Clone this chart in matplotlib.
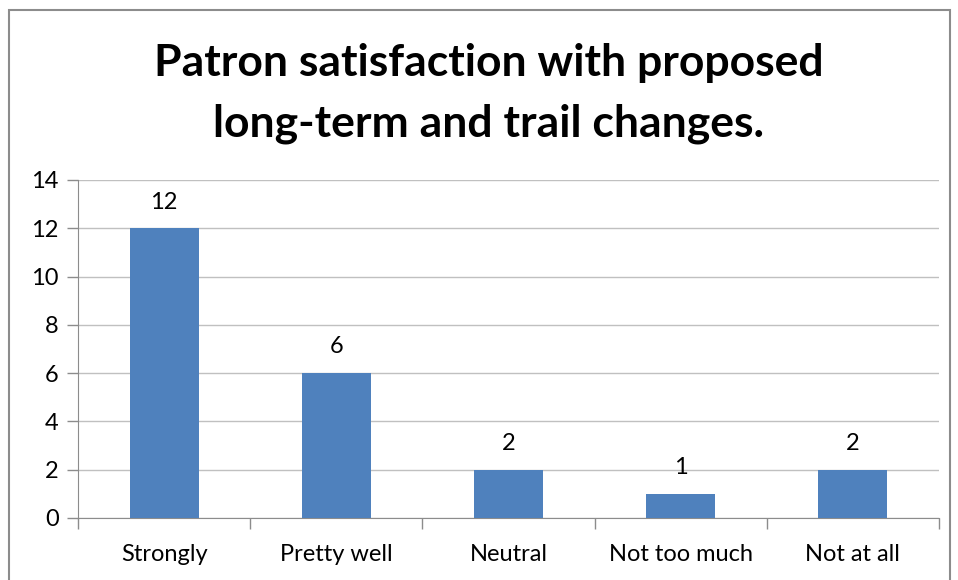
import matplotlib.pyplot as plt
from matplotlib.patches import Rectangle
import numpy as np

categories = ["Strongly", "Pretty well", "Neutral", "Not too much", "Not at all"]
counts = [12, 6, 2, 1, 2]
yticks = [0, 2, 4, 6, 8, 10, 12, 14]

plt.rcParams['font.family'] = ['Lato', 'DejaVu Sans']

fig = plt.figure(figsize=(9.58, 5.8), dpi=100)
ax = fig.add_axes([0.0814, 0.107, 0.8987, 0.5827])

# outer chart border (bottom edge runs off the image)
fig.patches.append(Rectangle((9 / 958, -0.05), 941 / 958, 1.05 - 10 / 580,
                             transform=fig.transFigure, fill=False,
                             edgecolor='#8c8c8c', linewidth=1.5))

x = np.arange(len(categories))
bars = ax.bar(x, counts, width=0.4, color='#4F81BD', zorder=3)
for b, v in zip(bars, counts):
    ax.text(b.get_x() + b.get_width() / 2, v + 0.65, str(v),
            ha='center', va='bottom', fontsize=17)

ax.set_xlim(-0.5, len(categories) - 0.5)
ax.set_ylim(0, 14)
ax.set_yticks(yticks)
ax.set_yticklabels([str(t) for t in yticks], fontsize=17)
ax.yaxis.grid(True, color='#c0c0c0', linewidth=1, zorder=0)

ax.set_xticks(x)
ax.set_xticklabels(categories, fontsize=17)
ax.tick_params(axis='x', length=0, pad=19)
ax.set_xticks(np.arange(-0.5, len(categories)), minor=True)
ax.tick_params(axis='x', which='minor', length=8, color='#8c8c8c', width=1)
ax.tick_params(axis='y', length=8, color='#8c8c8c', width=1, pad=6)

for s in ['top', 'right']:
    ax.spines[s].set_visible(False)
for s in ['left', 'bottom']:
    ax.spines[s].set_color('#8c8c8c')

fig.text(0.51, 0.839, "Patron satisfaction with proposed\nlong-term and trail changes.",
         ha='center', va='center', fontsize=32, fontweight='bold', linespacing=1.6)

fig.savefig("out.png", dpi=100)
